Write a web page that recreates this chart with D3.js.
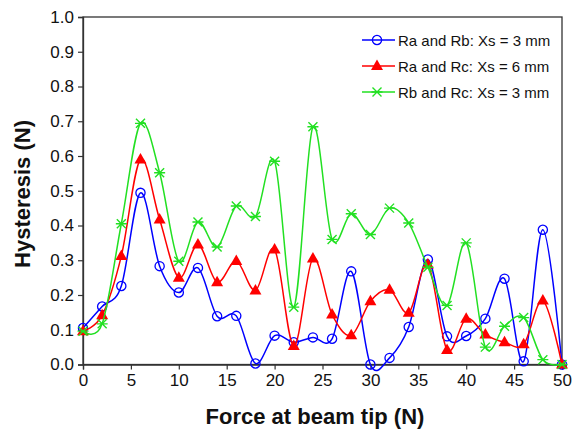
<!DOCTYPE html>
<html>
<head>
<meta charset="utf-8">
<script src="https://d3js.org/d3.v7.min.js"></script>
<style>
  body { margin: 0; background: #fff; }
  svg text { font-family: "Liberation Sans", Arial, sans-serif; }
</style>
</head>
<body>
<svg width="572" height="433"></svg>
<script>
// force at beam tip (N)
const forces = [0, 2, 4, 6, 8, 10, 12, 14, 16, 18, 20, 22, 24, 26, 28, 30, 32, 34, 36, 38, 40, 42, 44, 46, 48, 50];

// hysteresis (N) per pair of sensors
const raRb = [0.105, 0.167, 0.226, 0.494, 0.283, 0.207, 0.278, 0.139, 0.140, 0.003, 0.083, 0.064, 0.078,
              0.074, 0.268, 0.000, 0.019, 0.108, 0.302, 0.081, 0.082, 0.132, 0.247, 0.009, 0.388, 0.000];
const raRc = [0.096, 0.142, 0.312, 0.590, 0.417, 0.250, 0.345, 0.237, 0.298, 0.213, 0.331, 0.053, 0.305,
              0.144, 0.084, 0.182, 0.215, 0.149, 0.288, 0.042, 0.132, 0.086, 0.064, 0.058, 0.184, 0.000];
const rbRc = [0.096, 0.117, 0.405, 0.694, 0.552, 0.297, 0.410, 0.338, 0.456, 0.426, 0.585, 0.165, 0.684,
              0.360, 0.434, 0.374, 0.450, 0.407, 0.280, 0.170, 0.350, 0.050, 0.110, 0.135, 0.014, 0.000];

const seriesNames = ['Ra and Rb: Xs = 3 mm', 'Ra and Rc: Xs = 6 mm', 'Rb and Rc: Xs = 3 mm'];
const xTicks = [0, 5, 10, 15, 20, 25, 30, 35, 40, 45, 50];
const yTicks = [0, 0.1, 0.2, 0.3, 0.4, 0.5, 0.6, 0.7, 0.8, 0.9, 1.0];

const series = [
  { name: seriesNames[0], values: raRb, color: '#0000ff', marker: 'circle' },
  { name: seriesNames[1], values: raRc, color: '#ff0000', marker: 'triangle' },
  { name: seriesNames[2], values: rbRc, color: '#22e022', marker: 'star' }
];

const plotL = 83, plotR = 562, plotT = 17, plotB = 364.5;

const x = d3.scaleLinear().domain([0, 50]).range([plotL, plotR]);
const y = d3.scaleLinear().domain([0, 1]).range([plotB, plotT]);

const svg = d3.select('svg');

// frame
svg.append('rect')
  .attr('x', plotL).attr('y', plotT)
  .attr('width', plotR - plotL).attr('height', plotB - plotT)
  .attr('fill', 'none').attr('stroke', '#333').attr('stroke-width', 1.3);

const xAxis = svg.append('g')
  .attr('transform', `translate(0,${plotB})`)
  .call(d3.axisBottom(x).tickValues(xTicks).tickSize(5).tickPadding(4).tickFormat(d3.format('d')));
const yAxis = svg.append('g')
  .attr('transform', `translate(${plotL},0)`)
  .call(d3.axisLeft(y).tickValues(yTicks).tickSize(5).tickPadding(4).tickFormat(d3.format('.1f')));

[xAxis, yAxis].forEach(g => {
  g.select('.domain').attr('stroke', '#333').attr('stroke-width', 1.3);
  g.selectAll('.tick line').attr('stroke', '#333').attr('stroke-width', 1.2);
  g.selectAll('.tick text').attr('fill', '#111').style('font-size', '17px');
});

// axis titles
svg.append('text')
  .attr('x', 315)
  .attr('y', 424)
  .attr('text-anchor', 'middle')
  .style('font-size', '22px').style('font-weight', 'bold').attr('fill', '#111')
  .text('Force at beam tip (N)');

svg.append('text')
  .attr('transform', 'rotate(-90)')
  .attr('x', -194)
  .attr('y', 30)
  .attr('text-anchor', 'middle')
  .style('font-size', '22px').style('font-weight', 'bold').attr('fill', '#111')
  .text('Hysteresis (N)');

const line = d3.line()
  .x((d, i) => x(forces[i]))
  .y(d => y(d))
  .curve(d3.curveCatmullRom.alpha(0));

function drawMarker(g, type, color) {
  if (type === 'circle') {
    g.append('circle').attr('r', 4.6)
      .attr('fill', 'none').attr('stroke', color).attr('stroke-width', 1.3);
  } else if (type === 'triangle') {
    g.append('path').attr('d', 'M0,-6.5L6,4L-6,4Z').attr('fill', color);
  } else {
    g.append('path').attr('d', 'M-4.5,-4.5L4.5,4.5M-4.5,4.5L4.5,-4.5M-5.5,0L5.5,0')
      .attr('fill', 'none').attr('stroke', color).attr('stroke-width', 1.4);
  }
}

series.forEach(s => {
  svg.append('path')
    .datum(s.values)
    .attr('d', line)
    .attr('fill', 'none')
    .attr('stroke', s.color)
    .attr('stroke-width', 1.5);

  svg.append('g').selectAll('g')
    .data(s.values)
    .join('g')
    .attr('transform', (d, i) => `translate(${x(forces[i])},${y(d)})`)
    .each(function () { drawMarker(d3.select(this), s.marker, s.color); });
});

// legend
const legend = svg.append('g');
series.forEach((s, i) => {
  const row = legend.append('g').attr('transform', `translate(0,${40 + i * 26})`);
  row.append('line').attr('x1', 362).attr('x2', 395).attr('y1', 0).attr('y2', 0)
    .attr('stroke', s.color).attr('stroke-width', 1.5);
  drawMarker(row.append('g').attr('transform', 'translate(377,0)'), s.marker, s.color);
  row.append('text').attr('x', 398).attr('y', 5.5)
    .style('font-size', '15px').attr('fill', '#111')
    .text(s.name);
});
</script>
</body>
</html>
